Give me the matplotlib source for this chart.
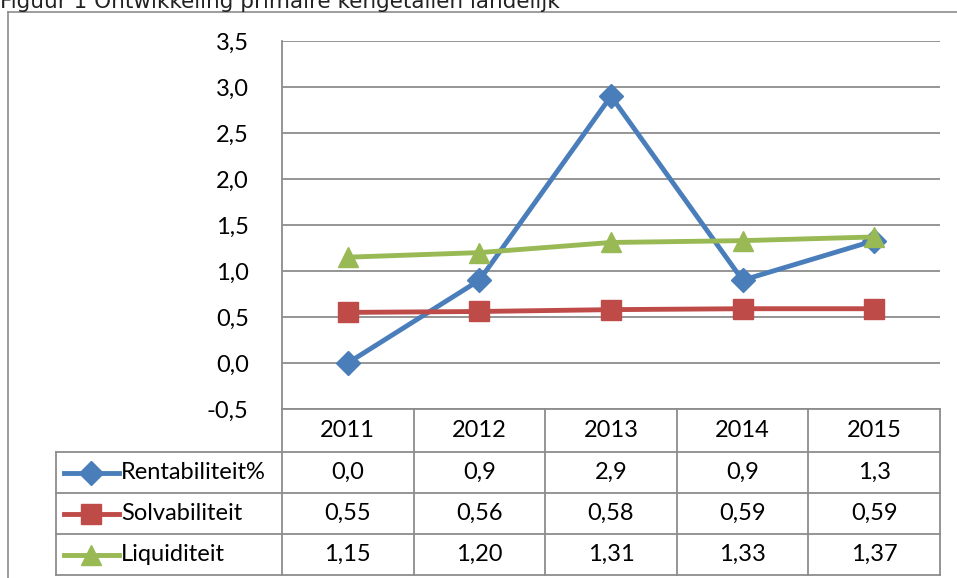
import matplotlib.pyplot as plt
import matplotlib.transforms as mtransforms

# data
years = ['2011', '2012', '2013', '2014', '2015']
series_names = ['Rentabiliteit%', 'Solvabiliteit', 'Liquiditeit']
rentabiliteit = [0.0, 0.9, 2.9, 0.9, 1.33]
solvabiliteit = [0.55, 0.56, 0.58, 0.59, 0.59]
liquiditeit = [1.15, 1.20, 1.31, 1.33, 1.37]
table_labels = [
    ['0,0', '0,9', '2,9', '0,9', '1,3'],
    ['0,55', '0,56', '0,58', '0,59', '0,59'],
    ['1,15', '1,20', '1,31', '1,33', '1,37'],
]
yticks = [-0.5, 0.0, 0.5, 1.0, 1.5, 2.0, 2.5, 3.0, 3.5]

colors = ['#4A7EBB', '#BE4B48', '#98B954']
markers = ['D', 's', '^']
msizes = [12, 14, 15]
grey = '#8C8C8C'
font = 'Lato'
fs = 17

W, H = 957, 578
fig = plt.figure(figsize=(W / 100, H / 100), dpi=100)

# overlay axes in pixel coords for border, caption and table
ov = fig.add_axes([0, 0, 1, 1])
ov.set_xlim(0, W)
ov.set_ylim(H, 0)
ov.axis('off')

# plot area
left, right, top, bottom = 282, 940, 41, 409
ax = fig.add_axes([left / W, 1 - bottom / H, (right - left) / W, (bottom - top) / H])
ax.patch.set_alpha(0)

x = range(len(years))
for vals, c, m, ms in zip([rentabiliteit, solvabiliteit, liquiditeit], colors, markers, msizes):
    ax.plot(x, vals, color=c, lw=3.5, marker=m, markersize=ms, zorder=3)

ax.set_xlim(-0.5, len(years) - 0.5)
ax.set_ylim(-0.5, 3.5)
ax.set_yticks(yticks)
ax.set_yticklabels([f'{v:.1f}'.replace('.', ',') for v in yticks], fontsize=fs, family=font)
ax.set_xticks([])
ax.tick_params(axis='y', length=0, pad=24)
ax.grid(axis='y', color=grey, lw=1.3)
for s in ['top', 'right', 'bottom']:
    ax.spines[s].set_visible(False)
ax.spines['left'].set_color(grey)
ax.spines['left'].set_linewidth(1.3)

# outer chart border and caption
ov.plot([8, 8], [12, H], color=grey, lw=1.2)
ov.plot([8, W], [12, 12], color=grey, lw=1.2)
ov.text(0, 8, 'Figuur 1 Ontwikkeling primaire kengetallen landelijk', fontsize=15.5,
        family='DejaVu Sans', va='baseline', ha='left', color='#222222')

# data table
tr = mtransforms.blended_transform_factory(ax.transData, ov.transData)
edges = [i - 0.5 for i in range(len(years) + 1)]
rows_y = [409, 452, 493, 534, 575]
label_left = 56
lw_t = 1.3

# vertical lines of the year columns
for e in edges:
    ov.plot([e, e], [rows_y[0], rows_y[-1]], color=grey, lw=lw_t, transform=tr, clip_on=False)
# horizontal lines
ov.plot([edges[0], edges[-1]], [rows_y[0], rows_y[0]], color=grey, lw=lw_t, transform=tr, clip_on=False)
for yy in rows_y[1:]:
    ov.plot([label_left, right], [yy, yy], color=grey, lw=lw_t)
ov.plot([label_left, label_left], [rows_y[1], rows_y[-1]], color=grey, lw=lw_t)

# header
for i, yr in enumerate(years):
    ov.text(i, (rows_y[0] + rows_y[1]) / 2, yr, transform=tr, ha='center', va='center',
            fontsize=fs, family=font)

# rows
for r, (name, labels) in enumerate(zip(series_names, table_labels)):
    yc = (rows_y[r + 1] + rows_y[r + 2]) / 2
    ov.plot([64, 119], [yc, yc], color=colors[r], lw=3.5)
    ov.plot([91], [yc], marker=markers[r], color=colors[r], markersize=msizes[r])
    ov.text(121, yc, name, ha='left', va='center', fontsize=fs, family=font)
    for i, lab in enumerate(labels):
        ov.text(i, yc, lab, transform=tr, ha='center', va='center', fontsize=fs, family=font)

fig.savefig('out.png', dpi=100)
